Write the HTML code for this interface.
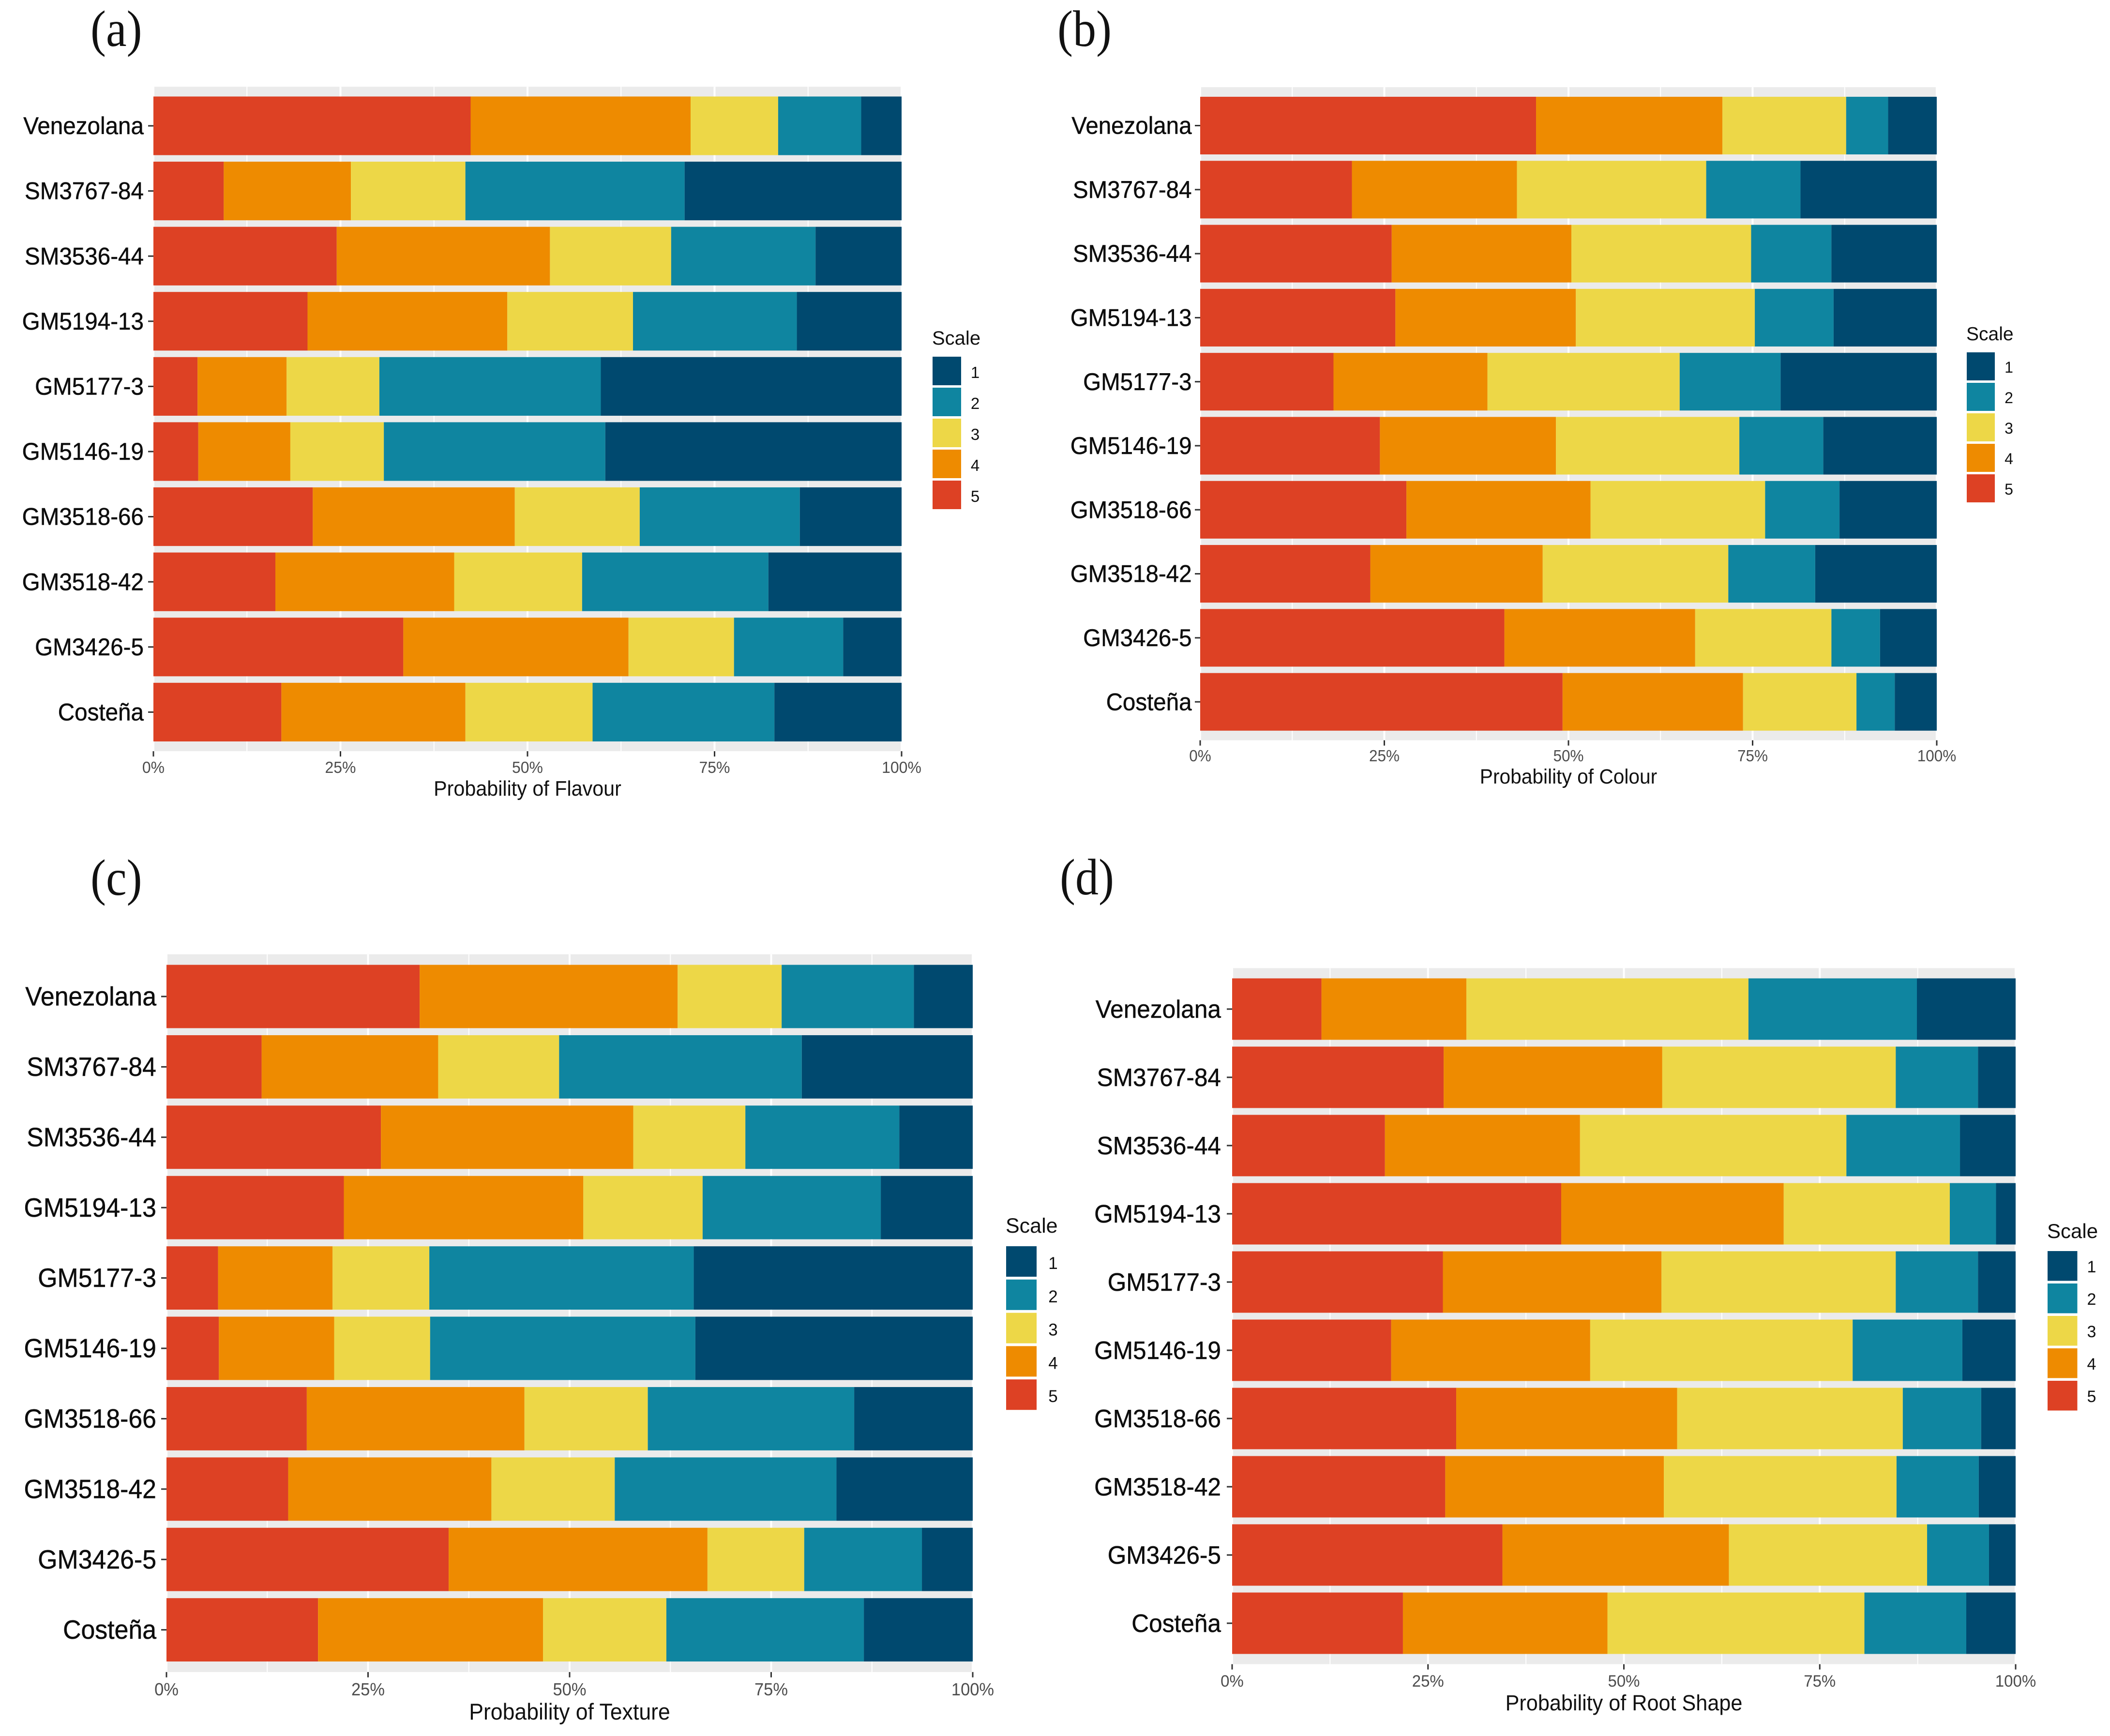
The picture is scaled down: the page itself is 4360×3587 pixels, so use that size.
<!DOCTYPE html>
<html lang="en">
<head>
<meta charset="utf-8">
<title>Probability of sensory scale by genotype</title>
<style>
html,body{margin:0;padding:0;background:#fff;}
svg{display:block;}
text{font-family:"Liberation Sans",Arial,sans-serif;}
.panel-letter{font-family:"Liberation Serif","Times New Roman",serif;fill:#111;}
</style>
</head>
<body>
<svg id="figure" xmlns="http://www.w3.org/2000/svg" width="4360" height="3587" viewBox="0 0 4360 3587">
<rect x="0" y="0" width="4360" height="3587" fill="#ffffff"/>
<text class="panel-letter" font-size="96" transform="translate(187,95) scale(1,1.1)">(a)</text>
<text class="panel-letter" font-size="96" transform="translate(2185,95) scale(1,1.1)">(b)</text>
<text class="panel-letter" font-size="96" transform="translate(187,1849) scale(1,1.1)">(c)</text>
<text class="panel-letter" font-size="96" transform="translate(2190,1848) scale(1,1.1)">(d)</text>
</svg>
<script>
const categories = ["Venezolana","SM3767-84","SM3536-44","GM5194-13","GM5177-3","GM5146-19","GM3518-66","GM3518-42","GM3426-5","Costeña"];
const xTickValues = [0,25,50,75,100];
const xTickLabels = ["0%","25%","50%","75%","100%"];
const xMinorValues = [12.5,37.5,62.5,87.5];
const legendLabels = ["1","2","3","4","5"];

const flavourScale5 = [42.4,9.4,24.5,20.6,5.9,6.0,21.3,16.3,33.4,17.1];
const flavourScale4 = [29.4,17.0,28.5,26.7,11.9,12.3,27.0,23.9,30.1,24.6];
const flavourScale3 = [11.7,15.3,16.2,16.8,12.4,12.5,16.7,17.1,14.1,17.0];
const flavourScale2 = [11.1,29.3,19.3,21.9,29.6,29.6,21.4,24.9,14.6,24.3];
const flavourScale1 = [5.4,29.0,11.5,14.0,40.2,39.6,13.6,17.8,7.8,17.0];

const colourScale5 = [45.6,20.6,26.0,26.5,18.1,24.4,28.0,23.1,41.3,49.2];
const colourScale4 = [25.3,22.4,24.4,24.5,20.9,23.9,25.0,23.4,25.9,24.5];
const colourScale3 = [16.8,25.7,24.4,24.3,26.1,24.9,23.7,25.2,18.5,15.4];
const colourScale2 = [5.7,12.8,10.9,10.7,13.7,11.4,10.1,11.8,6.6,5.2];
const colourScale1 = [6.6,18.5,14.3,14.0,21.2,15.4,13.2,16.5,7.7,5.7];

const textureScale5 = [31.4,11.8,26.6,22.0,6.4,6.5,17.4,15.1,35.0,18.8];
const textureScale4 = [32.0,21.9,31.3,29.7,14.2,14.3,27.0,25.2,32.1,27.9];
const textureScale3 = [12.9,15.0,13.9,14.8,12.0,11.9,15.3,15.3,12.0,15.3];
const textureScale2 = [16.4,30.1,19.1,22.1,32.8,32.9,25.6,27.5,14.6,24.5];
const textureScale1 = [7.3,21.2,9.1,11.4,34.6,34.4,14.7,16.9,6.3,13.5];

const rootShapeScale5 = [11.4,27.0,19.5,42.0,26.9,20.3,28.6,27.2,34.5,21.8];
const rootShapeScale4 = [18.5,27.9,24.9,28.4,27.9,25.4,28.2,27.9,28.9,26.1];
const rootShapeScale3 = [36.0,29.8,34.0,21.2,29.9,33.5,28.8,29.7,25.3,32.8];
const rootShapeScale2 = [21.5,10.5,14.5,5.9,10.5,14.0,10.0,10.5,7.9,13.0];
const rootShapeScale1 = [12.6,4.8,7.1,2.5,4.8,6.8,4.4,4.7,3.4,6.3];

const scaleColors = {5:"#DD4124",4:"#EE8B00",3:"#EDD747",2:"#0F85A0",1:"#00496F"};
const STRETCH = 1.05;
const svg = document.getElementById('figure');
const NS = 'http://www.w3.org/2000/svg';

function make(tag, attrs, parent){
  const el = document.createElementNS(NS, tag);
  for (const k in attrs) el.setAttribute(k, attrs[k]);
  parent.appendChild(el);
  return el;
}
function label(parent, str, x, y, size, fill, anchor){
  const t = make('text', {transform:'translate('+x+','+y+') scale(1,'+STRETCH+')', 'font-size':size, fill:fill, 'text-anchor':anchor}, parent);
  t.textContent = str;
  return t;
}

function drawPanel(p){
  const g = make('g', {}, svg);
  
  

  const xScale = v => p.x0 + v / 100 * (p.x1 - p.x0);
  const yScale = i => p.yFirst + i * p.pitch;
  const panelTop = yScale(0) - 0.6 * p.pitch;
  const panelBottom = yScale(categories.length - 1) + 0.6 * p.pitch;

  const bg = make('rect', {x:p.x0 + 2, y:panelTop, width:p.x1 - p.x0 - 4, height:panelBottom - panelTop, fill:'#EBEBEB'}, g);
  
  

  xMinorValues.forEach(v => {
    const l = make('line', {x1:xScale(v), x2:xScale(v), y1:panelTop, y2:panelBottom, stroke:'#ffffff', 'stroke-width':2}, g);
    
    
  });
  xTickValues.slice(1, -1).forEach(v => {
    const l = make('line', {x1:xScale(v), x2:xScale(v), y1:panelTop, y2:panelBottom, stroke:'#ffffff', 'stroke-width':4}, g);
    
    
  });

  const barHeight = 0.9 * p.pitch;
  categories.forEach((cat, i) => {
    let cum = 0;
    p.series.forEach(s => {
      const val = s.values[i];
      const r = make('rect', {x:xScale(cum), y:yScale(i) - barHeight / 2, width:xScale(cum + val) - xScale(cum), height:barHeight, fill:scaleColors[s.scale]}, g);
      
      
      cum += val;
    });
    const tick = make('line', {x1:p.x0 - 11, x2:p.x0, y1:yScale(i), y2:yScale(i), stroke:'#333333', 'stroke-width':3}, g);
    
    
    const t = label(g, cat, p.labelRight, yScale(i) + 0.36 * p.catSize, p.catSize, '#0d0d0d', 'end');
    t.setAttribute('stroke', '#0d0d0d');
    t.setAttribute('stroke-width', '0.5');
    
    
  });

  xTickValues.forEach((v, i) => {
    const tick = make('line', {x1:xScale(v), x2:xScale(v), y1:panelBottom, y2:panelBottom + 11, stroke:'#333333', 'stroke-width':3}, g);
    
    
    const t = label(g, xTickLabels[i], xScale(v), p.xLabelY, p.xTickSize, '#4d4d4d', 'middle');
    
    
  });

  const title = label(g, p.title, (p.x0 + p.x1) / 2, p.titleY, p.titleSize, '#111111', 'middle');
  
  

  const lg = make('g', {}, g);
  
  
  const lt = make('text', {x:p.lgX, y:p.lgTitleY, 'font-size':p.lgTitleSize, fill:'#111111'}, lg);
  lt.textContent = 'Scale';
  
  
  legendLabels.forEach((lab, i) => {
    const keyY = p.lgTop + i * p.lgPitch;
    const key = make('rect', {x:p.lgX + 1, y:keyY, width:p.lgKey, height:p.lgKey, fill:scaleColors[lab]}, lg);
    
    
    const d = make('text', {x:p.lgTextX, y:p.lgBase + i * p.lgPitch, 'font-size':p.lgSize, fill:'#111111', 'text-anchor':'middle'}, lg);
    d.textContent = lab;
    
    
  });
}

function seriesOf(s5, s4, s3, s2, s1){
  return [{scale:5,values:s5},{scale:4,values:s4},{scale:3,values:s3},{scale:2,values:s2},{scale:1,values:s1}];
}

drawPanel({slug:'flavour', title:'Probability of Flavour', x0:317, x1:1863, yFirst:260, pitch:134.6,
  labelRight:297, catSize:47.6, xTickSize:32, xLabelY:1597, titleY:1644, titleSize:41.3,
  lgX:1926, lgTop:737, lgPitch:64, lgKey:59, lgTitleY:712, lgTitleSize:40, lgTextX:2015, lgBase:781, lgSize:33,
  series:seriesOf(flavourScale5, flavourScale4, flavourScale3, flavourScale2, flavourScale1)});

drawPanel({slug:'colour', title:'Probability of Colour', x0:2480, x1:4002, yFirst:259.5, pitch:132.3,
  labelRight:2462.5, catSize:47.5, xTickSize:31.5, xLabelY:1573, titleY:1619, titleSize:40.7,
  lgX:4063, lgTop:728, lgPitch:63, lgKey:58, lgTitleY:703, lgTitleSize:39, lgTextX:4151, lgBase:770, lgSize:32,
  series:seriesOf(colourScale5, colourScale4, colourScale3, colourScale2, colourScale1)});

drawPanel({slug:'texture', title:'Probability of Texture', x0:344, x1:2010, yFirst:2059, pitch:145.4,
  labelRight:323, catSize:51.8, xTickSize:34.5, xLabelY:3503, titleY:3553, titleSize:44.6,
  lgX:2078, lgTop:2575, lgPitch:68.8, lgKey:63, lgTitleY:2547, lgTitleSize:43, lgTextX:2176, lgBase:2622, lgSize:35,
  series:seriesOf(textureScale5, textureScale4, textureScale3, textureScale2, textureScale1)});

drawPanel({slug:'root-shape', title:'Probability of Root Shape', x0:2546, x1:4165, yFirst:2085, pitch:141,
  labelRight:2523, catSize:49.6, xTickSize:33, xLabelY:3485, titleY:3534, titleSize:43.2,
  lgX:4230, lgTop:2585, lgPitch:67, lgKey:61.5, lgTitleY:2558, lgTitleSize:42, lgTextX:4322, lgBase:2629, lgSize:34,
  series:seriesOf(rootShapeScale5, rootShapeScale4, rootShapeScale3, rootShapeScale2, rootShapeScale1)});
</script>
</body>
</html>
